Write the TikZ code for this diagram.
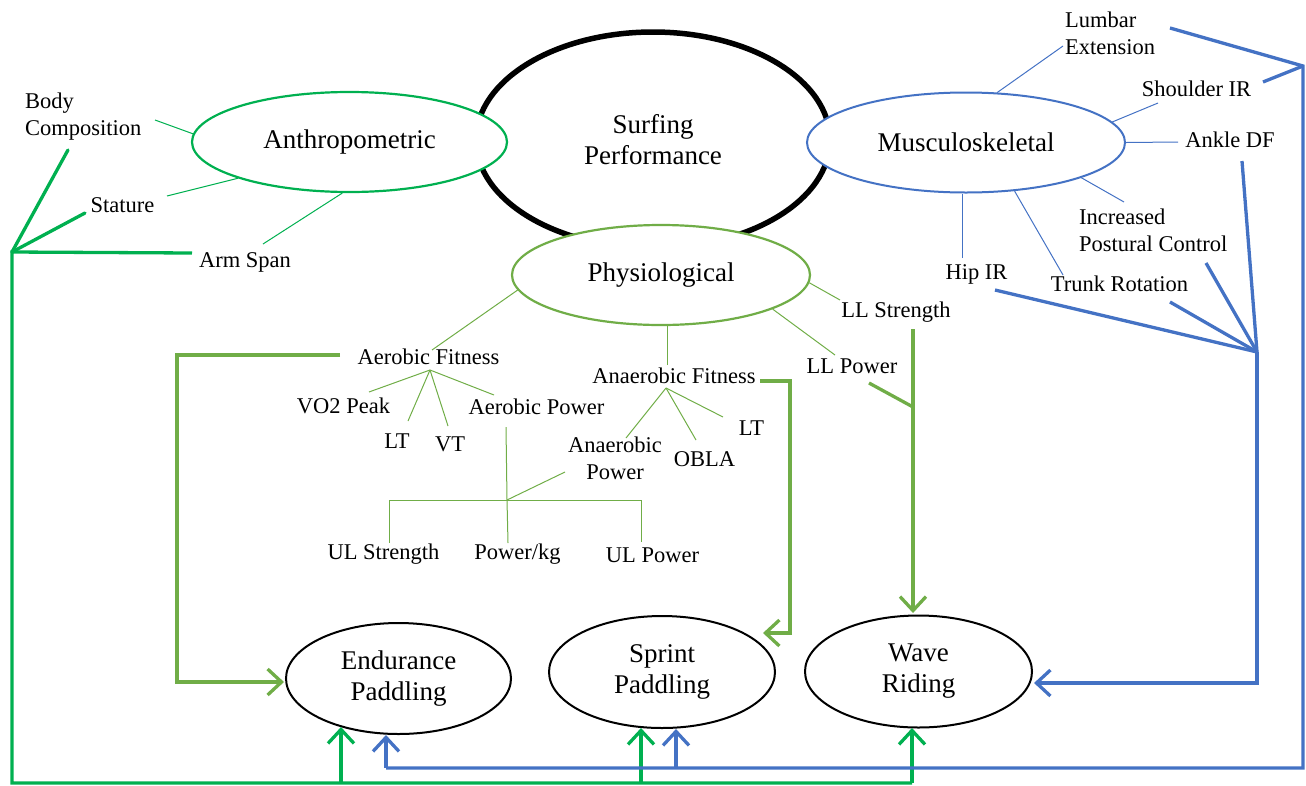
\documentclass[tikz,border=0pt]{standalone}
\usepackage{fontspec}
\setmainfont{Liberation Serif}
\usetikzlibrary{arrows.meta,shapes.geometric}
\definecolor{gA}{HTML}{00B050}
\definecolor{gP}{HTML}{70AD47}
\definecolor{bM}{HTML}{4472C4}
\begin{document}
\begin{tikzpicture}[x=1pt,y=-1pt,
  lab/.style={inner sep=0pt, font=\fontsize{22.5}{27}\selectfont},
  big/.style={ellipse, draw, fill=white, inner sep=0pt, align=center, font=\fontsize{27}{31}\selectfont},
  thinA/.style={gA, line width=1pt},
  thinP/.style={gP, line width=1pt},
  thinB/.style={bM, line width=1pt},
  thickA/.style={gA, line width=3.3pt},
  thickP/.style={gP, line width=3.3pt},
  thickB/.style={bM, line width=3.3pt},
  tip/.style={-{Straight Barb[length=14pt,width=26pt]}}
]
\useasboundingbox (0,0) rectangle (1306,785);

% main ellipses
\node[big, line width=5.5pt, minimum width=354pt, minimum height=216pt] (surf) at (653,140) {Surfing\\Performance};
\node[big, draw=gA, line width=2.2pt, minimum width=315pt, minimum height=100pt] (anthro) at (349.5,142) {Anthropometric};
\node[big, draw=bM, line width=2pt, minimum width=318pt, minimum height=100pt] (muscle) at (966,142.5) {Musculoskeletal};
\node[big, draw=gP, line width=2.2pt, minimum width=298pt, minimum height=100pt] (physio) at (661,275) {Physiological};

\node[big, line width=2pt, minimum width=225pt, minimum height=111pt] (endur) at (398.5,678.5) {Endurance\\Paddling};
\node[big, line width=2pt, minimum width=226pt, minimum height=112pt] (sprint) at (662,672) {Sprint\\Paddling};
\node[big, line width=2pt, minimum width=227pt, minimum height=112pt] (wave) at (918.5,671.5) {Wave\\Riding};

% labels
\node[lab, align=left, anchor=west] (bodycomp) at (25,117) {Body\\Composition};
\node[lab] (stature) at (122.5,205) {Stature};
\node[lab] (armspan) at (245,262) {Arm Span};

\node[lab, align=left, anchor=west] (lumbar) at (1065,33.5) {Lumbar\\Extension};
\node[lab] (shoulder) at (1196.5,89) {Shoulder IR};
\node[lab] (ankle) at (1230,140) {Ankle DF};
\node[lab, align=left, anchor=west] (postural) at (1079,230) {Increased\\Postural Control};
\node[lab] (trunk) at (1119.5,284) {Trunk Rotation};
\node[lab] (hip) at (976.5,274) {Hip IR};

\node[lab] (llstr) at (896,312) {LL Strength};
\node[lab] (llpow) at (852,366) {LL Power};
\node[lab] (aerofit) at (428.5,357) {Aerobic Fitness};
\node[lab] (anaefit) at (674,376) {Anaerobic Fitness};
\node[lab] (vo2) at (343.5,406) {VO2 Peak};
\node[lab] (lta) at (397,441) {LT};
\node[lab] (vt) at (450,444) {VT};
\node[lab] (aeropow) at (536.5,407) {Aerobic Power};
\node[lab, align=center] (anaepow) at (615,458) {Anaerobic\\Power};
\node[lab] (obla) at (704.5,459) {OBLA};
\node[lab] (ltb) at (751.5,428) {LT};
\node[lab] (ulstr) at (383.5,554) {UL Strength};
\node[lab] (powkg) at (517.5,554) {Power/kg};
\node[lab] (ulpow) at (652.5,555) {UL Power};

% coordinates for free ends
\coordinate (bcE) at (155,120);
\coordinate (stE) at (167,196);
\coordinate (asE) at (263,244);
\coordinate (luE) at (1063,46);
\coordinate (shE) at (1158,103);
\coordinate (anE) at (1178,142);
\coordinate (inE) at (1124,202);
\coordinate (trE) at (1063,275);
\coordinate (hiE) at (962,258);
\coordinate (afE) at (432,350);
\coordinate (anfE) at (667,365);
\coordinate (lpE) at (835,355);
\coordinate (lsE) at (840,300);

% anthropometric thin lines
\draw[thinA] (bcE) -- (anthro.177.5);
\draw[thinA] (stE) -- (anthro.198.5);
\draw[thinA] (asE) -- (anthro.262.7);

% musculoskeletal thin lines
\draw[thinB] (muscle.58.5) -- (luE);
\draw[thinB] (muscle.8.8) -- (shE);
\draw[thinB] (muscle.0) -- (anE);
\draw[thinB] (muscle.-17) -- (inE);
\draw[thinB] (muscle.-45.9) -- (trE);
\draw[thinB] (hiE) -- (hiE |- muscle.south);

% physiological thin lines
\draw[thinP] (physio.186.6) -- (afE);
\draw[thinP] (anfE) -- (anfE |- physio.south);
\draw[thinP] (physio.-17.4) -- (lpE);
\draw[thinP] (physio.-3.9) -- (lsE);

% aerobic fitness tree
\coordinate (aj) at (430,370);
\coordinate (vo2E) at (369,392);
\coordinate (ltaE) at (408,421);
\coordinate (vtE) at (448,426);
\coordinate (apE) at (494,395);
\draw[thinP] (aj) -- (vo2E);
\draw[thinP] (aj) -- (ltaE);
\draw[thinP] (aj) -- (vtE);
\draw[thinP] (aj) -- (apE);

\coordinate (apB) at (506,427);
\coordinate (pj) at (507,500);
\coordinate (barL) at (389,500);
\coordinate (barR) at (641,500);
\coordinate (ulsE) at (389,543);
\coordinate (pkE) at (508,543);
\coordinate (ulpE) at (641,542);
\coordinate (anpE) at (565,472);
\draw[thinP] (apB) -- (pj);
\draw[thinP] (ulsE) -- (barL) -- (barR) -- (ulpE);
\draw[thinP] (pj) -- (pkE);
\draw[thinP] (pj) -- (anpE);

% anaerobic fitness tree
\coordinate (anj) at (666,388);
\coordinate (anpT) at (626,438);
\coordinate (oblaE) at (696,440);
\coordinate (ltbE) at (723,417);
\draw[thinP] (anj) -- (anpT);
\draw[thinP] (anj) -- (oblaE);
\draw[thinP] (anj) -- (ltbE);

% thick anthropometric (bright green)
\coordinate (gj) at (12,252);
\coordinate (g1) at (68,150);
\coordinate (g2) at (85,213);
\coordinate (g3) at (192,253);
\coordinate (gbl) at (12,783);
\coordinate (gbr) at (912,783);
\draw[thickA, line cap=round] (g1) -- (gj);
\draw[thickA, line cap=round] (g2) -- (gj);
\draw[thickA, line join=miter] (g3) -- (gj) -- (gbl) -- (gbr);
\coordinate (gE1) at (341,783);
\coordinate (gE2) at (641,783);
\coordinate (tE1) at (341,727);
\coordinate (tE2) at (641,728);
\coordinate (tE3) at (912,728);
\draw[thickA, tip] (gE1) -- (tE1);
\draw[thickA, tip] (gE2) -- (tE2);
\draw[thickA, tip] (gbr) -- (tE3);

% thick physiological arrows
\coordinate (aS) at (340,355);
\coordinate (aC) at (177,355);
\coordinate (aT) at (284,682);
\draw[thickP, tip, line join=miter] (aS) -- (aC) |- (aT);
\coordinate (nS) at (760,381);
\coordinate (nC) at (790,381);
\coordinate (nT) at (763,633);
\draw[thickP, tip, line join=miter] (nS) -- (nC) |- (nT);
\coordinate (lS) at (913,329);
\coordinate (lJ) at (913,407);
\coordinate (lT) at (913,613);
\coordinate (lP) at (869,383);
\draw[thickP, tip] (lS) -- (lT);
\draw[thickP] (lP) -- (lJ);

% thick blue
\coordinate (bL1) at (1170,28);
\coordinate (bTop) at (1303,66);
\coordinate (bL2) at (1263,82);
\coordinate (bBr) at (1303,768);
\coordinate (bBl) at (386,768);
\coordinate (bTE) at (386,735);
\coordinate (bS) at (676,768);
\coordinate (bTS) at (676,729);
\draw[thickB, line join=miter] (bL1) -- (bTop) -- (bBr) -- (bBl);
\draw[thickB] (bL2) -- (bTop);
\draw[thickB, tip] (bBl) -- (bTE);
\draw[thickB, tip] (bS) -- (bTS);

\coordinate (bj) at (1257,352);
\coordinate (bh) at (995,290);
\coordinate (bt) at (1170,302);
\coordinate (bp) at (1206,263);
\coordinate (ba) at (1242,161);
\coordinate (bc) at (1257,683);
\coordinate (bw) at (1034,683);
\draw[thickB] (bh) -- (bj);
\draw[thickB] (bt) -- (bj);
\draw[thickB] (bp) -- (bj);
\draw[thickB] (ba) -- (bj);
\draw[thickB, tip, line join=miter] (bj) -- (bc) -- (bw);
\end{tikzpicture}
\end{document}
